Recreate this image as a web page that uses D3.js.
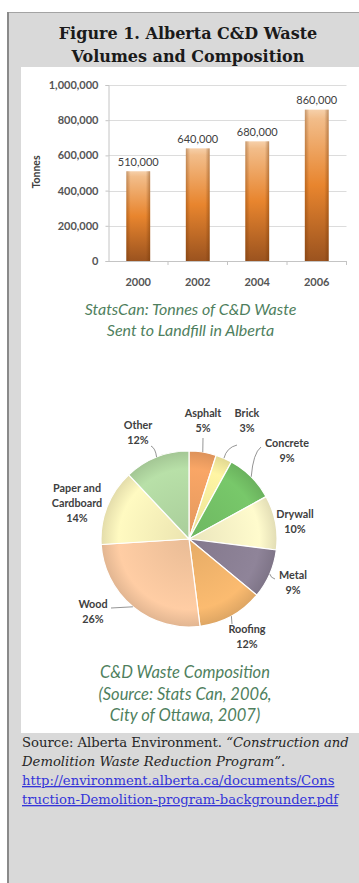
<!DOCTYPE html>
<html><head><meta charset="utf-8">
<script src="https://cdn.jsdelivr.net/npm/d3@7"></script>
<style>html,body{margin:0;padding:0;background:#fff;} svg{display:block;}</style>
</head><body>
<svg id="fig" width="359" height="883"></svg>
<script>
// Landfilled C&D waste, Alberta (tonnes)
const years = ["2000", "2002", "2004", "2006"];
const tonnes = [510000, 640000, 680000, 860000];
const yTicks = [0, 200000, 400000, 600000, 800000, 1000000];

// Composition of C&D waste (%)
const materials = ["Asphalt", "Brick", "Concrete", "Drywall", "Metal", "Roofing", "Wood", "Paper and Cardboard", "Other"];
const shares = [5, 3, 9, 10, 9, 12, 26, 14, 12];
const materialLines = [["Asphalt"], ["Brick"], ["Concrete"], ["Drywall"], ["Metal"], ["Roofing"], ["Wood"], ["Paper and", "Cardboard"], ["Other"]];
const sliceColors = ["#f0a062", "#f6ec9e", "#74c166", "#f7f2c6", "#8a7f94", "#f2b46c", "#f6c69e", "#f8f1ba", "#b2d8a2"];

const svg = d3.select("#fig");
const defs = svg.append("defs");

// ---- grey figure panel ----
svg.append("rect").attr("x", 7).attr("y", 12).attr("width", 352).attr("height", 871).attr("fill", "#d9d9d9");
svg.append("line").attr("x1", 7).attr("x2", 359).attr("y1", 12.5).attr("y2", 12.5).attr("stroke", "#a3a3a3").attr("stroke-width", 1);
svg.append("line").attr("x1", 8).attr("x2", 8).attr("y1", 12).attr("y2", 883).attr("stroke", "#8a8a8a").attr("stroke-width", 2);
svg.append("rect").attr("x", 21).attr("y", 67).attr("width", 338).attr("height", 666).attr("fill", "#ffffff");

// ---- title ----
const title = svg.append("text").attr("text-anchor", "middle")
  .attr("font-family", "DejaVu Serif").attr("font-weight", "bold").attr("font-size", 16).attr("fill", "#1a1a1a");
title.append("tspan").attr("x", 188).attr("y", 39).text("Figure 1. Alberta C&D Waste");
title.append("tspan").attr("x", 188).attr("y", 62).text("Volumes and Composition");

// ---- bar chart ----
const x = d3.scaleBand().domain(years).range([108.5, 346.5]);
const y = d3.scaleLinear().domain([0, 1000000]).range([261, 85]);
const bw = x.bandwidth();

svg.append("g").selectAll("line").data(yTicks.filter(d => d > 0)).join("line")
  .attr("x1", 108.5).attr("x2", 346.5)
  .attr("y1", d => Math.round(y(d)) + 0.5).attr("y2", d => Math.round(y(d)) + 0.5)
  .attr("stroke", "#dcdcdc").attr("stroke-width", 1);

const yAxis = svg.append("g").attr("transform", "translate(108.5,0)")
  .call(d3.axisLeft(y).tickValues(yTicks).tickFormat(d3.format(",")).tickSize(3).tickPadding(7));
yAxis.select(".domain").attr("stroke", "#c4c4c4");
yAxis.selectAll(".tick line").attr("stroke", "#c4c4c4");
yAxis.selectAll(".tick text").attr("font-family", "Lato").attr("font-weight", "bold").attr("font-size", 11).attr("fill", "#555555");

// baseline and category separators
svg.append("line").attr("x1", 108.5).attr("x2", 346.5).attr("y1", y(0) + 0.5).attr("y2", y(0) + 0.5).attr("stroke", "#c4c4c4");
svg.append("g").selectAll("line").data(years.slice(1).map(d => x(d)).concat([x.range()[1]])).join("line")
  .attr("x1", d => d).attr("x2", d => d).attr("y1", y(0)).attr("y2", y(0) + 4)
  .attr("stroke", "#c4c4c4");

svg.append("g").selectAll("text").data(years).join("text")
  .attr("x", d => x(d) + bw / 2).attr("y", 286).attr("text-anchor", "middle")
  .attr("font-family", "Lato").attr("font-weight", "bold").attr("font-size", 11).attr("fill", "#555555")
  .text(d => d);

const gV = defs.append("linearGradient").attr("id", "barV").attr("x1", 0).attr("y1", 0).attr("x2", 0).attr("y2", 1);
[[0, "#f6d0aa"], [0.06, "#f2bd8a"], [0.5, "#e8852e"], [1, "#9b531f"]].forEach(s => gV.append("stop").attr("offset", s[0]).attr("stop-color", s[1]));
const gH = defs.append("linearGradient").attr("id", "barH").attr("x1", 0).attr("y1", 0).attr("x2", 1).attr("y2", 0);
[[0, "#6a3000", 0.35], [0.18, "#6a3000", 0], [0.82, "#6a3000", 0], [1, "#6a3000", 0.4]].forEach(s =>
  gH.append("stop").attr("offset", s[0]).attr("stop-color", s[1]).attr("stop-opacity", s[2]));

const barW = bw * 0.4;
const bars = svg.append("g").selectAll("g").data(years.map((d, i) => ({year: d, value: tonnes[i]}))).join("g");
bars.append("rect").attr("x", d => x(d.year) + (bw - barW) / 2).attr("y", d => y(d.value))
  .attr("width", barW).attr("height", d => y(0) - y(d.value)).attr("fill", "url(#barV)");
bars.append("rect").attr("x", d => x(d.year) + (bw - barW) / 2).attr("y", d => y(d.value))
  .attr("width", barW).attr("height", d => y(0) - y(d.value)).attr("fill", "url(#barH)");
bars.append("text").attr("x", d => x(d.year) + bw / 2).attr("y", d => y(d.value) - 5.5)
  .attr("text-anchor", "middle").attr("font-family", "Lato").attr("font-size", 11).attr("fill", "#404040")
  .text(d => d3.format(",")(d.value));

svg.append("text").attr("transform", "translate(36,172) rotate(-90)").attr("text-anchor", "middle").attr("dy", "0.35em")
  .attr("font-family", "Lato").attr("font-weight", "bold").attr("font-size", 10.5).attr("fill", "#404040").text("Tonnes");

const cap1 = svg.append("text").attr("text-anchor", "middle").attr("font-family", "Lato").attr("font-style", "italic")
  .attr("font-size", 16).attr("fill", "#4f7f5e");
cap1.append("tspan").attr("x", 190.5).attr("y", 315).text("StatsCan: Tonnes of C&D Waste");
cap1.append("tspan").attr("x", 190.5).attr("y", 336).text("Sent to Landfill in Alberta");

// ---- pie chart ----
const cx = 189, cy = 539, R = 88;
const pie = d3.pie().sort(null).value(d => d)(shares);
const arc = d3.arc().innerRadius(0).outerRadius(R);

sliceColors.forEach((c, i) => {
  const g = defs.append("radialGradient").attr("id", "slice" + i).attr("gradientUnits", "userSpaceOnUse")
    .attr("cx", 0).attr("cy", 0).attr("r", R);
  const base = d3.color(c);
  g.append("stop").attr("offset", 0).attr("stop-color", base.darker(0.15));
  g.append("stop").attr("offset", 0.8).attr("stop-color", base.brighter(0.1));
  g.append("stop").attr("offset", 1).attr("stop-color", base.darker(0.25));
});

const pg = svg.append("g").attr("transform", `translate(${cx},${cy})`);
pg.selectAll("path").data(pie).join("path")
  .attr("d", arc).attr("fill", (d, i) => `url(#slice${i})`)
  .attr("stroke", "#ffffff").attr("stroke-width", 1.2).attr("stroke-linejoin", "round");

// label anchors relative to the pie centre, and leader start points
const labelLayout = [
  {dx: 14, dy: -122, lead: [14, -101]},
  {dx: 58, dy: -122, lead: [48, -94], curve: true},
  {dx: 98, dy: -92, lead: [72, -92], curve: true},
  {dx: 106, dy: -21, lead: null},
  {dx: 104, dy: 40, lead: [86, 40], curve: true},
  {dx: 58, dy: 94, lead: [43, 85]},
  {dx: -96, dy: 69, lead: [-78, 69]},
  {dx: -112, dy: -47, lead: null},
  {dx: -51, dy: -110, lead: [-38, -93], curve: true}
];

const labelG = pg.append("g").attr("font-family", "Lato").attr("font-weight", "bold").attr("font-size", 10.8)
  .attr("fill", "#404040").attr("text-anchor", "middle");
pie.forEach((d, i) => {
  const L = labelLayout[i];
  const lines = materialLines[i].concat([shares[i] + "%"]);
  const t = labelG.append("text");
  lines.forEach((s, k) => t.append("tspan").attr("x", L.dx).attr("y", L.dy + k * 15).text(s));
  if (L.lead) {
    const a = (d.startAngle + d.endAngle) / 2;
    const rim = [Math.sin(a) * R, -Math.cos(a) * R];
    const p = d3.path();
    p.moveTo(L.lead[0], L.lead[1]);
    if (L.curve) p.quadraticCurveTo(rim[0] + (L.lead[0] - rim[0]) * 0.2, L.lead[1] + (rim[1] - L.lead[1]) * 0.2, rim[0], rim[1]);
    else p.lineTo(rim[0], rim[1]);
    pg.append("path").attr("d", p.toString()).attr("fill", "none").attr("stroke", "#7a7a7a").attr("stroke-width", 0.8);
  }
});

const cap2 = svg.append("text").attr("text-anchor", "middle").attr("font-family", "Lato").attr("font-style", "italic")
  .attr("font-size", 16.5).attr("fill", "#4f7f5e");
cap2.append("tspan").attr("x", 185).attr("y", 678).text("C&D Waste Composition");
cap2.append("tspan").attr("x", 185).attr("y", 699.5).text("(Source: Stats Can, 2006,");
cap2.append("tspan").attr("x", 185).attr("y", 721).text("City of Ottawa, 2007)");

// ---- source note ----
const src = svg.append("g").attr("font-family", "DejaVu Serif").attr("font-size", 13.2).attr("fill", "#262626");
const s1 = src.append("text").attr("x", 22).attr("y", 747);
s1.append("tspan").text("Source: Alberta Environment. ");
s1.append("tspan").attr("font-style", "italic").text("“Construction and");
src.append("text").attr("x", 22).attr("y", 766).attr("font-style", "italic").text("Demolition Waste Reduction Program”.");
const link = src.append("g").attr("fill", "#3434d8").attr("text-decoration", "underline");
link.append("text").attr("x", 22).attr("y", 785).text("http://environment.alberta.ca/documents/Cons");
link.append("text").attr("x", 22).attr("y", 804).text("truction-Demolition-program-backgrounder.pdf");
</script>
</body></html>
